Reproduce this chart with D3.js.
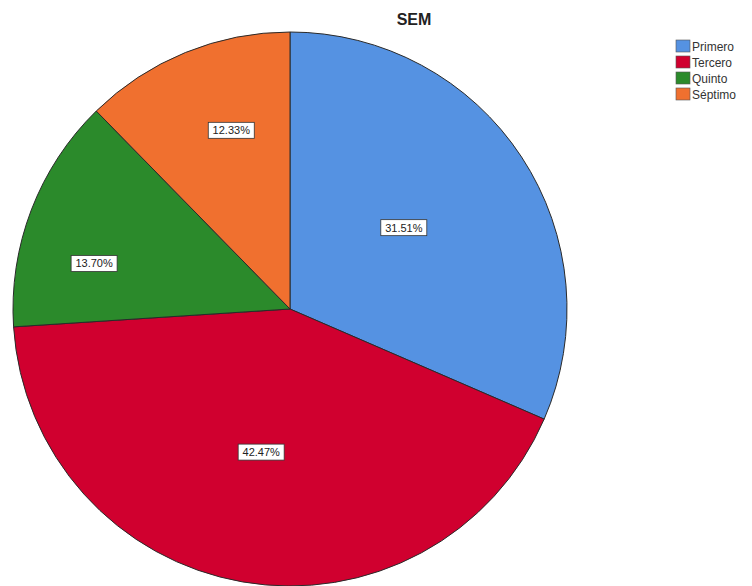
<!DOCTYPE html>
<html>
<head>
<meta charset="utf-8">
<script src="https://cdn.jsdelivr.net/npm/d3@7"></script>
<style>
  body { margin: 0; background: #fff; }
</style>
</head>
<body>
<div id="chart"></div>
<script>
const categories = ["Primero", "Tercero", "Quinto", "Séptimo"];
const counts = [23, 31, 10, 9];
const colors = ["#5592e2", "#d0002f", "#2b8a2b", "#f0702f"];
// where SPSS drops each % label: position along the slice and fraction of the radius
const labelAlong = [0.48, 0.51, 0.34, 0.59];
const labelFrac = [0.505, 0.527, 0.726, 0.679];

const width = 752;
const height = 586;
const cx = 290, cy = 309, r = 277;

const data = categories.map((c, i) => ({
  name: c, value: counts[i], color: colors[i], lf: labelFrac[i], la: labelAlong[i]
}));
const total = d3.sum(counts);

const svg = d3.select("#chart").append("svg")
  .attr("width", width)
  .attr("height", height)
  .style("font-family", "'Liberation Sans', Arial, sans-serif");

svg.append("text")
  .attr("x", 414)
  .attr("y", 25)
  .attr("text-anchor", "middle")
  .style("font-size", "16px")
  .style("font-weight", "bold")
  .style("fill", "#222")
  .text("SEM");

const pie = d3.pie().sort(null).value(d => d.value);
const arc = d3.arc().innerRadius(0).outerRadius(r);
const arcs = pie(data);

const g = svg.append("g").attr("transform", `translate(${cx},${cy})`);

g.selectAll("path")
  .data(arcs)
  .join("path")
  .attr("d", arc)
  .attr("fill", d => d.data.color)
  .attr("stroke", "#2a2a2a")
  .attr("stroke-width", 1);

const fmt = v => (v / total * 100).toFixed(2) + "%";

const labels = g.selectAll(".lbl")
  .data(arcs)
  .join("g")
  .attr("class", "lbl")
  .attr("transform", d => {
    const a = d.startAngle + (d.endAngle - d.startAngle) * d.data.la;
    const rr = r * d.data.lf;
    return `translate(${Math.sin(a) * rr},${-Math.cos(a) * rr})`;
  });

labels.append("rect")
  .attr("x", -23)
  .attr("y", -8)
  .attr("width", 46)
  .attr("height", 16)
  .attr("fill", "#fff")
  .attr("stroke", "#333")
  .attr("stroke-width", 0.8);

labels.append("text")
  .attr("text-anchor", "middle")
  .attr("dy", "0.36em")
  .style("font-size", "11px")
  .style("fill", "#222")
  .text(d => fmt(d.data.value));

const legend = svg.append("g").attr("transform", "translate(676,40)");
const rows = legend.selectAll("g")
  .data(data)
  .join("g")
  .attr("transform", (d, i) => `translate(0,${i * 16})`);

rows.append("rect")
  .attr("width", 14)
  .attr("height", 12)
  .attr("fill", d => d.color)
  .attr("stroke", "#555")
  .attr("stroke-width", 0.6);

rows.append("text")
  .attr("x", 16)
  .attr("y", 11)
  .style("font-size", "12px")
  .style("fill", "#333")
  .text(d => d.name);
</script>
</body>
</html>
